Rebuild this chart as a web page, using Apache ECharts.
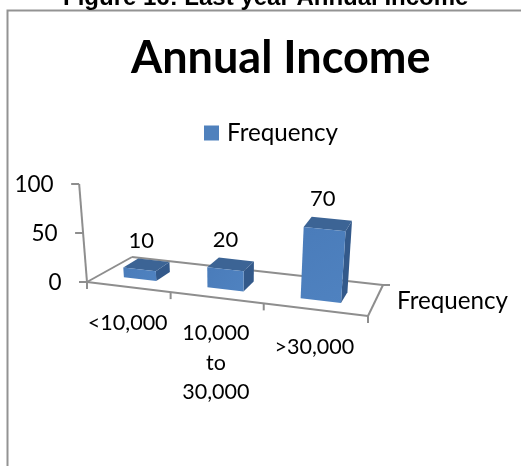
<!DOCTYPE html>
<html>
<head>
<meta charset="utf-8">
<style>html,body{margin:0;padding:0;background:#fff}#c{width:521px;height:466px}</style>
<script src="https://cdn.jsdelivr.net/npm/echarts@6/dist/echarts.min.js"></script>
</head>
<body>
<div id="c"></div>
<script>
const heading = 'Figure 16: Last year Annual Income';
const chartTitle = 'Annual Income';
const seriesName = 'Frequency';
const categories = ['<10,000', '10,000\nto\n30,000', '>30,000'];
const frequency = [10, 20, 70];
const valueTicks = [0, 50, 100];

// Floor of the 3D plot: corners in canvas pixels, and the bar footprint on it.
const FL = [87, 282], FR = [368, 316], BL = [132, 257], BR = [383, 285];
const GRID = { left: 87, top: 184, width: 281, height: 98 };
const PERSPECTIVE = 1.18, BAR_BAND = 0.4, DEPTH = [0.3, 0.65];
const LABEL_DROP = [21, 21, 23];
const FONT = 'Lato, "Open Sans", sans-serif';

// Turn a grid pixel (from the value/category scales) into a point on the tilted plot.
function project(px, py, depth) {
  const u = (px - GRID.left) / GRID.width;
  const f = u / (u + PERSPECTIVE * (1 - u));
  const h = (GRID.top + GRID.height - py) * (1 + 0.05 * u);
  const lerp = (a, b, t) => [a[0] + (b[0] - a[0]) * t, a[1] + (b[1] - a[1]) * t];
  const p = lerp(lerp(FL, FR, f), lerp(BL, BR, f), depth);
  const tilt = (-8 + 16 * u) * h / 100;
  return [p[0] + tilt, p[1] - h];
}
const face = (pts, fill) => ({ type: 'polygon', shape: { points: pts }, style: { fill: fill } });
const line = (a, b) => ({
  type: 'line', shape: { x1: a[0], y1: a[1], x2: b[0], y2: b[1] },
  style: { stroke: '#8e8e8e', lineWidth: 2 }
});
const text = (x, y, s, size, align, valign) => ({
  type: 'text', x: x, y: y,
  style: { text: s, fill: '#000', font: size + 'px ' + FONT, align: align || 'center', verticalAlign: valign || 'middle', lineHeight: 29.5 }
});

function renderFrame(params, api) {
  if (params.dataIndex !== 0) return { type: 'group', children: [] };
  const kids = [];
  const left = GRID.left, right = GRID.left + GRID.width;
  const base = api.coord([0, 0])[1];
  kids.push(line(project(left, base, 0), project(right, base, 0)));
  kids.push(line(project(left, base, 0), project(left, base, 1)));
  kids.push(line(project(left, base, 1), project(right, base, 1)));
  kids.push(line(project(right, base, 0), project(right, base, 1)));
  // tick marks under the front edge, and out past the back-right corner
  const bw = GRID.width / categories.length;
  for (let i = 0; i <= categories.length; i++) {
    const p = project(left + bw * i, base, 0);
    kids.push(line(p, [p[0], p[1] + 7]));
  }
  const br = project(right, base, 1);
  kids.push(line(br, [br[0] + 7, br[1]]));
  // value axis with its ticks and labels
  kids.push(line(project(left, api.coord([0, valueTicks[0]])[1], 0),
                 project(left, api.coord([0, valueTicks[valueTicks.length - 1]])[1], 0)));
  valueTicks.forEach(v => {
    const p = project(left, api.coord([0, v])[1], 0);
    kids.push(line(p, [p[0] - 8, p[1]]));
    kids.push(text(p[0] - 25.5, p[1] + 1, String(v), 22.5, 'right'));
  });
  // category labels hang below the middle of each band
  categories.forEach((name, i) => {
    const p = project(api.coord([i, 0])[0], base, 0);
    kids.push(text(p[0], p[1] + LABEL_DROP[i], name, 21.5, 'center', 'top'));
  });
  // name of the depth axis
  kids.push(text(br[0] + 14, br[1] + 16, seriesName, 24.2, 'left'));
  return { type: 'group', children: kids };
}

function renderBar(params, api) {
  const i = api.value(0), v = api.value(1);
  const c = api.coord([i, 0]), top = api.coord([i, v])[1], size = api.size([1, 0])[0] * BAR_BAND;
  const x0 = c[0] - size / 2, x1 = c[0] + size / 2, y0 = c[1];
  const [d0, d1] = DEPTH;
  const a = project(x0, y0, d0), b = project(x1, y0, d0), s = project(x1, y0, d1);
  const at = project(x0, top, d0), bt = project(x1, top, d0), st = project(x1, top, d1), ct = project(x0, top, d1);
  return {
    type: 'group', children: [
      face([b, s, st, bt], '#33598a'),
      face([at, bt, st, ct], '#3c6495'),
      face([a, b, bt, at], new echarts.graphic.LinearGradient(0, 0, 1, 1, [
        { offset: 0, color: '#4a7cba' }, { offset: 1, color: '#4f82c0' }
      ])),
      text((at[0] + st[0]) / 2 - 5, ct[1] - 18, String(v), 22)
    ]
  };
}

const chart = echarts.init(document.getElementById('c'), null, { renderer: 'canvas' });
chart.setOption({
  animation: false,
  backgroundColor: '#fff',
  title: [
    { text: heading, left: 58, top: -19, textStyle: { fontFamily: '"Liberation Sans"', fontWeight: 'bold', fontSize: 24, color: '#000' } },
    { text: chartTitle, left: 126, top: 31, textStyle: { fontFamily: FONT, fontWeight: 'bold', fontSize: 45, color: '#000' } }
  ],
  legend: {
    left: 199, top: 116, itemWidth: 15, itemHeight: 15,
    data: [{ name: seriesName, icon: 'rect' }],
    textStyle: { fontFamily: FONT, fontSize: 24.2, color: '#000', padding: [0, 0, 0, 3] }
  },
  grid: GRID,
  xAxis: { type: 'category', data: categories, show: false },
  yAxis: { type: 'value', min: 0, max: 100, interval: 50, show: false },
  graphic: [
    { type: 'rect', shape: { x: 7.5, y: 10.5, width: 530, height: 470 }, style: { fill: 'none', stroke: '#939393', lineWidth: 2 }, silent: true }
  ],
  series: [
    { type: 'custom', name: 'frame', coordinateSystem: 'cartesian2d', z: 1, silent: true, renderItem: renderFrame,
      data: [[0, 0]], encode: { x: 0, y: 1 } },
    { type: 'custom', name: seriesName, coordinateSystem: 'cartesian2d', z: 2, renderItem: renderBar,
      itemStyle: { color: '#4f81bd' }, encode: { x: 0, y: 1 },
      data: frequency.map((v, i) => [i, v]) }
  ]
});
</script>
</body>
</html>
